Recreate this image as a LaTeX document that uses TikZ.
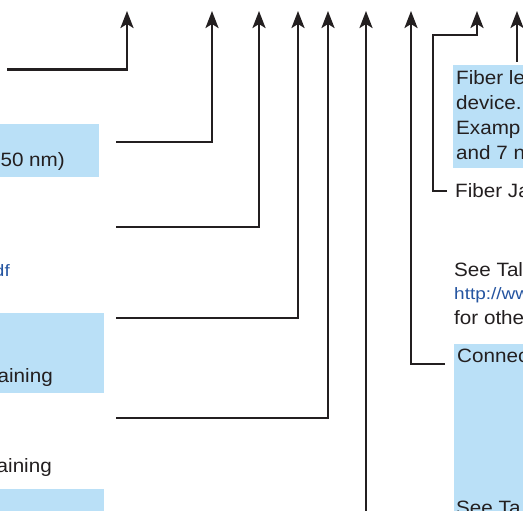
\documentclass[tikz,border=0pt]{standalone}
\usepackage{fontspec}
\setmainfont[FakeStretch=1.07]{Liberation Sans}
\newfontfamily\linkfont[FakeStretch=1.15]{Liberation Sans}
\usetikzlibrary{arrows.meta}
\definecolor{boxblue}{RGB}{186,224,247}
\definecolor{ink}{RGB}{35,31,32}
\definecolor{linkblue}{RGB}{36,84,160}
\begin{document}
\begin{tikzpicture}[x=1pt,y=-1pt,
  lead/.style={draw=ink,line width=2.6pt,-{Stealth[length=17pt,width=13pt,inset=4pt]}},
  panel/.style={fill=boxblue,draw=none,inner sep=0pt,outer sep=0pt,anchor=north west},
  txt/.style={inner sep=0pt,font=\fontsize{19.3}{25}\selectfont,text=ink},
  link/.style={inner sep=0pt,font=\linkfont\fontsize{16.5}{20}\selectfont,text=linkblue}]
\useasboundingbox (0,0) rectangle (523,511);
\clip (0,0) rectangle (523,511);
% blue panels
\node[panel,minimum width=99pt,minimum height=53pt] (b1) at (0,124) {};
\node[panel,minimum width=104pt,minimum height=80pt] (b2) at (0,313) {};
\node[panel,minimum width=104pt,minimum height=30pt] (b3) at (0,489) {};
\node[panel,minimum width=80pt,minimum height=103pt] (b4) at (453,65) {};
\node[panel,minimum width=80pt,minimum height=180pt] (b5) at (454,344) {};
% left texts
\node[txt,anchor=base east] (t1) at (65,167) {50 nm)};
\node[link,anchor=base east] (t2) at (10,276) {df};
\node[txt,anchor=base east] (t3) at (53,382) {aining};
\node[txt,anchor=base east] (t4) at (52,472) {aining};
% right texts
\node[txt,anchor=base west] (r1) at (456,85) {Fiber le};
\node[txt,anchor=base west] (r2) at (456,110) {device.};
\node[txt,anchor=base west] (r3) at (456,135) {Examp};
\node[txt,anchor=base west] (r4) at (456,160) {and 7 n};
\node[txt,anchor=base west] (r5) at (455,197) {Fiber Ja};
\node[txt,anchor=base west] (r6) at (454,276) {See Tal};
\node[link,anchor=base west] (r7) at (454,299) {http://ww};
\node[txt,anchor=base west] (r8) at (454,324) {for othe};
\node[txt,anchor=base west] (r9) at (457,362) {Connec};
\node[txt,anchor=base west] (r10) at (456,514) {See Ta};
% connector ends
\coordinate (s1) at (7,69.5);   \coordinate (e1) at (127,11);
\coordinate (s2) at (116,142);  \coordinate (e2) at (212,11);
\coordinate (s3) at (116,227);  \coordinate (e3) at (259,11);
\coordinate (s4) at (116,318);  \coordinate (e4) at (298,11);
\coordinate (s5) at (116,418);  \coordinate (e5) at (328,11);
\coordinate (s6) at (366,520);  \coordinate (e6) at (366,11);
\coordinate (s7) at (445,364);  \coordinate (e7) at (411,11);
\coordinate (s8) at (447,191);  \coordinate (k8) at (433,35); \coordinate (e8) at (477,11);
\coordinate (s9) at (517,62);   \coordinate (e9) at (517,11);
\draw[lead] (s1) -| (e1);
\draw[lead] (s2) -| (e2);
\draw[lead] (s3) -| (e3);
\draw[lead] (s4) -| (e4);
\draw[lead] (s5) -| (e5);
\draw[lead] (s6) -- (e6);
\draw[lead] (s7) -| (e7);
\draw[lead] (s8) -| (k8) -| (e8);
\draw[lead] (s9) -- (e9);
\end{tikzpicture}
\end{document}
